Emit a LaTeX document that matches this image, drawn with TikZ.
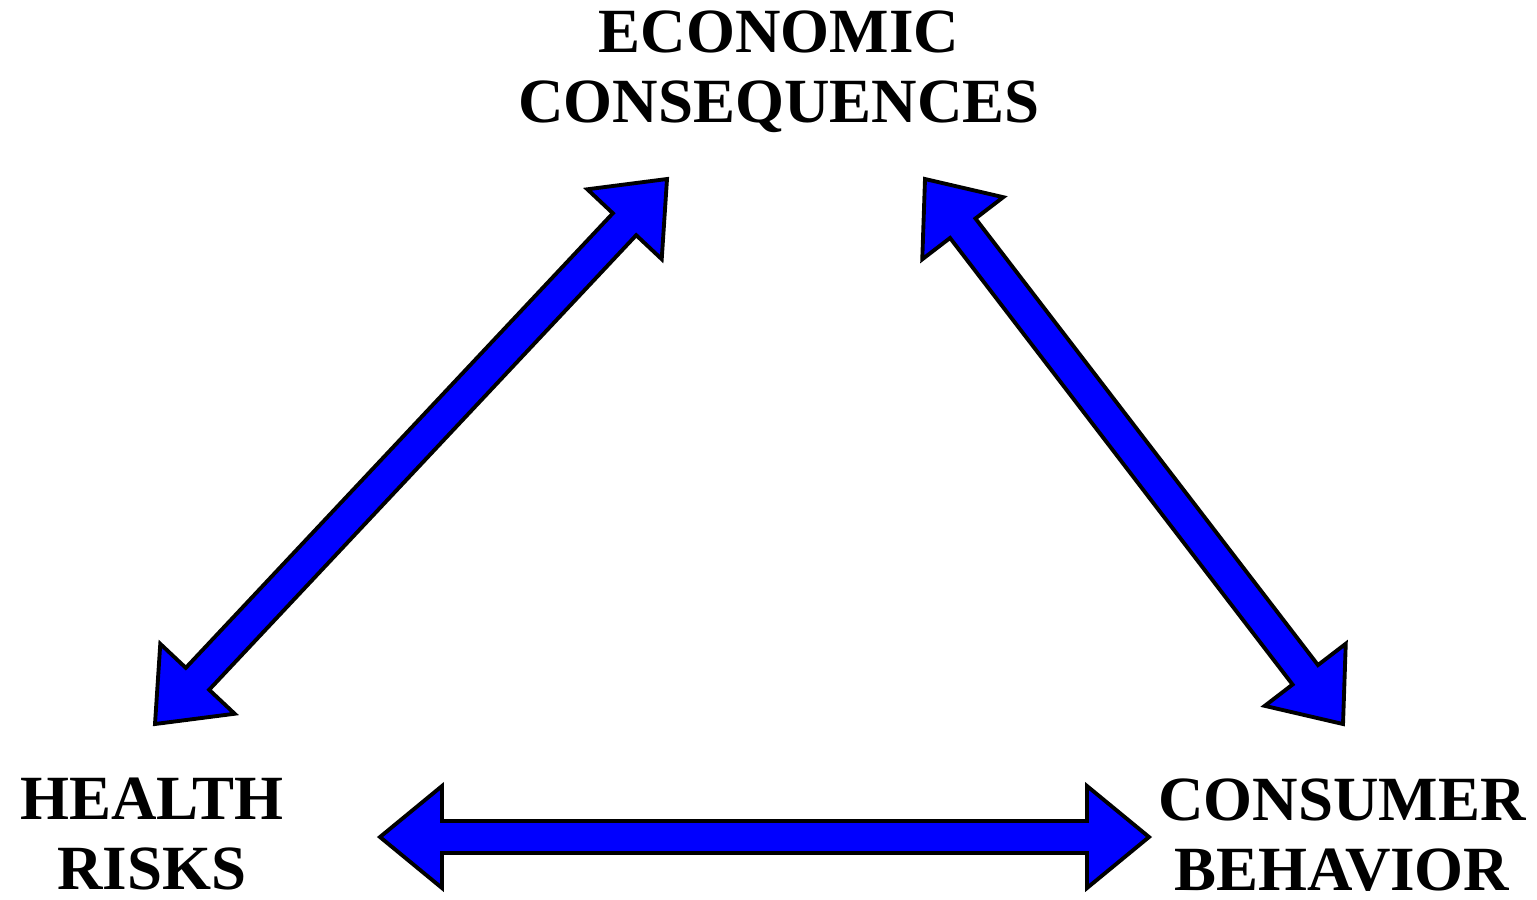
\documentclass[tikz,border=0pt]{standalone}
\usepackage{fontspec}
\setmainfont{Liberation Serif}
\usetikzlibrary{calc}

% fat double-headed arrow between two named coordinates
\newcommand{\fatarrow}[2]{%
  \coordinate (#1h) at ($(#1)!0.62cm!(#2)$);
  \coordinate (#2h) at ($(#2)!0.62cm!(#1)$);
  \filldraw[fatarrow] (#1)
    -- ($(#1h)!0.51cm!-90:(#2)$) -- ($(#1h)!0.16cm!-90:(#2)$)
    -- ($(#2h)!0.16cm!90:(#1)$) -- ($(#2h)!0.51cm!90:(#1)$)
    -- (#2)
    -- ($(#2h)!0.51cm!-90:(#1)$) -- ($(#2h)!0.16cm!-90:(#1)$)
    -- ($(#1h)!0.16cm!90:(#2)$) -- ($(#1h)!0.51cm!90:(#2)$)
    -- cycle;}

\begin{document}
\begin{tikzpicture}[x=0.01cm,y=-0.01cm,
    label/.style={align=center, anchor=base, inner sep=0pt,
      font=\fontsize{17.9pt}{19.9pt}\selectfont\bfseries},
    fatarrow/.style={fill=arrowblue, draw=black, line width=1.1pt, line join=miter}]
    % Define colors
    \definecolor{arrowblue}{RGB}{0,0,255}

    \useasboundingbox (0,0) rectangle (1537,899);

    % Labels (anchored at the baseline of the last line)
    \node[label] (eco) at (779,122) {ECONOMIC\\CONSEQUENCES};
    \node[label] (health) at (152,889) {HEALTH\\RISKS};
    \node[label] (consumer) at (1342,890) {CONSUMER\\BEHAVIOR};

    % Arrow ends
    \coordinate (ecoL) at (667,179);
    \coordinate (healthT) at (155,724);
    \coordinate (ecoR) at (925,179);
    \coordinate (consumerT) at (1343,724);
    \coordinate (healthR) at (380,837);
    \coordinate (consumerL) at (1149,837);

    % Draw arrows
    \fatarrow{healthT}{ecoL}
    \fatarrow{ecoR}{consumerT}
    \fatarrow{healthR}{consumerL}
\end{tikzpicture}
\end{document}
